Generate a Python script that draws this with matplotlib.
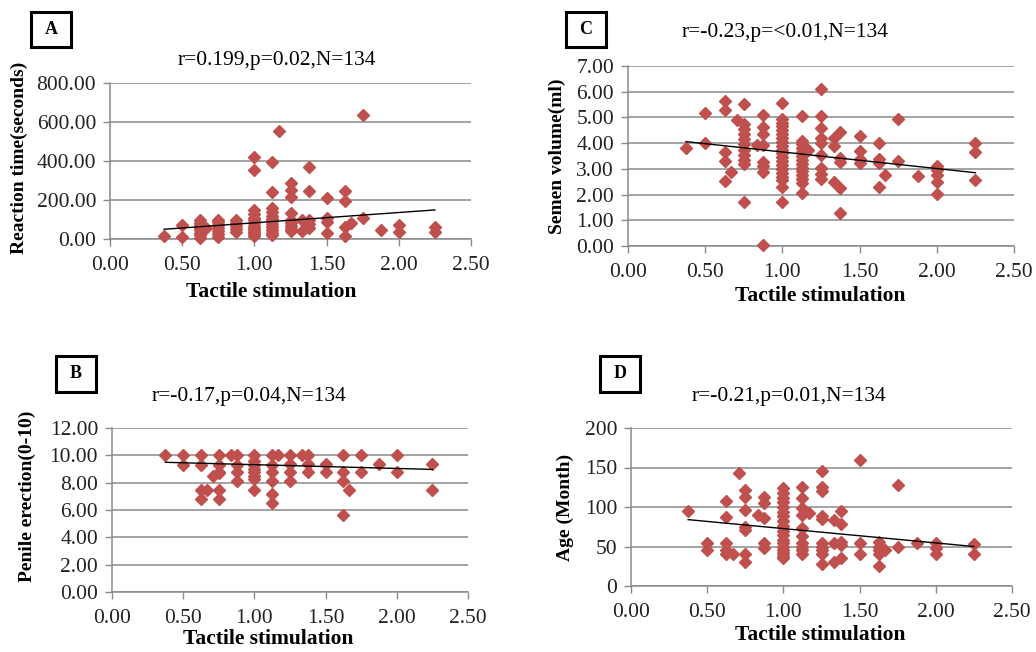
import numpy as np
import matplotlib.pyplot as plt
from matplotlib.patches import Rectangle
from matplotlib.ticker import FormatStrFormatter, MultipleLocator

plt.rcParams['font.family'] = ['Liberation Serif', 'DejaVu Serif']

W, H = 1036, 652

# tactile stimulation score (x) paired with each outcome
a_x = [0.375, 0.5, 0.5,
       0.625, 0.625, 0.625, 0.625, 0.625, 0.625, 0.625, 0.625, 0.667,
       0.75, 0.75, 0.75, 0.75, 0.75, 0.75, 0.75,
       0.875, 0.875, 0.875, 0.875, 0.875,
       1.0, 1.0, 1.0, 1.0, 1.0, 1.0, 1.0, 1.0, 1.0, 1.0, 1.0, 1.0, 1.0,
       1.125, 1.125, 1.125, 1.125, 1.125, 1.125, 1.125, 1.125, 1.125, 1.125, 1.125, 1.125,
       1.167,
       1.25, 1.25, 1.25, 1.25, 1.25, 1.25, 1.25, 1.25, 1.25,
       1.333, 1.333, 1.375, 1.375, 1.375, 1.375, 1.375,
       1.5, 1.5, 1.5, 1.5, 1.625, 1.625, 1.625, 1.625, 1.667,
       1.75, 1.75, 1.875, 2.0, 2.0, 2.25, 2.25]
a_y = [17, 72, 9,
       95, 80, 70, 55, 45, 30, 20, 5, 55,
       100, 85, 70, 55, 40, 25, 10,
       95, 80, 65, 50, 35,
       422, 354, 150, 130, 110, 95, 80, 65, 55, 45, 35, 25, 15,
       396, 243, 160, 140, 120, 105, 90, 75, 60, 45, 30, 18,
       554,
       289, 252, 217, 132, 95, 80, 65, 50, 40,
       95, 40, 368, 248, 97, 75, 55,
       209, 106, 89, 32, 248, 196, 63, 15, 84,
       636, 106, 46, 72, 38, 63, 38]

b_x = [0.375, 0.5, 0.5,
       0.625, 0.625, 0.625, 0.625, 0.667, 0.708,
       0.75, 0.75, 0.75, 0.75, 0.75, 0.75, 0.833,
       0.875, 0.875, 0.875, 0.875,
       1.0, 1.0, 1.0, 1.0, 1.0, 1.0, 1.0, 1.0,
       1.125, 1.125, 1.125, 1.125, 1.125, 1.125, 1.167,
       1.25, 1.25, 1.25, 1.25, 1.333, 1.375, 1.375, 1.375,
       1.5, 1.5, 1.625, 1.625, 1.625, 1.625, 1.667,
       1.75, 1.75, 1.875, 2.0, 2.0, 2.25, 2.25]
b_y = [10, 10, 9.3,
       10, 9.3, 7.5, 6.8, 7.5, 8.5,
       10, 9.3, 8.8, 8.7, 7.5, 6.8, 10,
       10, 9.3, 8.8, 8.1,
       10, 9.6, 9.3, 9.0, 8.8, 8.5, 8.3, 7.5,
       10, 9.3, 8.8, 8.1, 7.2, 6.5, 10,
       10, 9.4, 8.8, 8.1, 10, 10, 9.35, 8.8,
       9.35, 8.8, 10, 8.8, 8.1, 5.6, 7.5,
       10, 8.8, 9.35, 10, 8.8, 9.35, 7.5]

c_x = [0.375, 0.5, 0.5,
       0.625, 0.625, 0.625, 0.625, 0.625, 0.667, 0.708,
       0.75, 0.75, 0.75, 0.75, 0.75, 0.75, 0.75, 0.75, 0.75, 0.75, 0.75,
       0.833,
       0.875, 0.875, 0.875, 0.875, 0.875, 0.875, 0.875, 0.875,
       1.0, 1.0, 1.0, 1.0, 1.0, 1.0, 1.0, 1.0, 1.0, 1.0,
       1.0, 1.0, 1.0, 1.0, 1.0, 1.0, 1.0, 1.0, 1.0, 1.0,
       1.125, 1.125, 1.125, 1.125, 1.125, 1.125, 1.125,
       1.125, 1.125, 1.125, 1.125, 1.125, 1.125, 1.125,
       1.167,
       1.25, 1.25, 1.25, 1.25, 1.25, 1.25, 1.25, 1.25, 1.25,
       1.333, 1.333, 1.333, 1.375, 1.375, 1.375, 1.375, 1.375,
       1.5, 1.5, 1.5, 1.5, 1.625, 1.625, 1.625, 1.625, 1.667,
       1.75, 1.75, 1.875, 2.0, 2.0, 2.0, 2.0, 2.0, 2.25, 2.25, 2.25]
c_y = [3.80, 5.18, 4.0,
       5.65, 5.29, 3.67, 3.31, 2.52, 2.87, 4.9,
       5.52, 4.75, 4.55, 4.35, 4.15, 3.95, 3.75, 3.55, 3.35, 3.2, 1.72,
       3.93,
       5.09, 4.64, 4.34, 3.93, 3.28, 3.1, 2.89, 0.02,
       5.57, 4.95, 4.8, 4.65, 4.5, 4.35, 4.2, 4.05, 3.9, 3.75,
       3.6, 3.45, 3.3, 3.15, 3.0, 2.85, 2.7, 2.55, 2.3, 1.72,
       5.05, 4.1, 3.95, 3.8, 3.65, 3.5, 3.35,
       3.2, 3.05, 2.9, 2.75, 2.6, 2.45, 2.05,
       3.73,
       6.09, 5.06, 4.58, 4.2, 4.0, 3.54, 3.02, 2.8, 2.6,
       4.19, 3.89, 2.5, 4.45, 3.41, 3.28, 2.24, 1.27,
       4.28, 3.71, 3.37, 3.22, 4.02, 3.37, 3.22, 2.31, 2.76,
       4.93, 3.30, 2.72, 3.1, 2.95, 2.76, 2.5, 2.01, 4.0, 3.67, 2.57]

d_x = [0.375, 0.5, 0.5,
       0.625, 0.625, 0.625, 0.625, 0.625, 0.667, 0.708,
       0.75, 0.75, 0.75, 0.75, 0.75, 0.75, 0.75, 0.833,
       0.875, 0.875, 0.875, 0.875, 0.875,
       1.0, 1.0, 1.0, 1.0, 1.0, 1.0, 1.0, 1.0, 1.0,
       1.0, 1.0, 1.0, 1.0, 1.0, 1.0, 1.0, 1.0, 1.0,
       1.125, 1.125, 1.125, 1.125, 1.125, 1.125, 1.125, 1.125, 1.125, 1.125,
       1.167,
       1.25, 1.25, 1.25, 1.25, 1.25, 1.25, 1.25, 1.25, 1.25, 1.25,
       1.333, 1.333, 1.333, 1.375, 1.375, 1.375, 1.375, 1.375,
       1.5, 1.5, 1.5, 1.625, 1.625, 1.625, 1.625, 1.625, 1.667,
       1.75, 1.75, 1.875, 2.0, 2.0, 2.0, 2.25, 2.25]
d_y = [95, 54, 45,
       107, 87, 54, 46, 40, 40, 143,
       121, 113, 96, 75, 71, 41, 30, 90,
       113, 105, 86, 54, 48,
       124, 118, 112, 106, 100, 94, 88, 82, 76,
       70, 64, 58, 54, 50, 46, 42, 38, 35,
       125, 111, 99, 90, 73, 63, 55, 50, 45, 41,
       92,
       145, 125, 120, 89, 85, 55, 50, 45, 40, 28,
       83, 55, 30, 95, 79, 56, 52, 35,
       160, 55, 41, 56, 50, 45, 41, 25, 46,
       128, 49, 55, 54, 48, 41, 53, 41]

# linear trend end values at x = 0.375 and x = 2.25
trend_x = [0.375, 2.25]
a_trend = [50, 149]
b_trend = [9.49, 8.97]
c_trend = [4.06, 2.85]
d_trend = [84, 50]

titles = ['r=0.199,p=0.02,N=134', 'r=-0.17,p=0.04,N=134',
          'r=-0.23,p=<0.01,N=134', 'r=-0.21,p=0.01,N=134']
ylabels = ['Reaction time(seconds)', 'Penile erection(0-10)',
           'Semen volume(ml)', 'Age (Month)']

fig = plt.figure(figsize=(W / 100, H / 100), dpi=100, facecolor='white')


def fx(px):
    return px / W


def fy(py):
    return 1 - py / H


def panel(box, xs, ys, trend, ymax, ystep, yfmt, letter, letter_box,
          title, title_xy, ylabel, ylabel_xy, xlabel_xy):
    left, top, right, bottom = box
    ax = fig.add_axes([fx(left), fy(bottom), (right - left) / W, (bottom - top) / H])
    ax.set_xlim(0, 2.5)
    ax.set_ylim(0, ymax)
    ax.xaxis.set_major_locator(MultipleLocator(0.5))
    ax.yaxis.set_major_locator(MultipleLocator(ystep))
    ax.xaxis.set_major_formatter(FormatStrFormatter('%.2f'))
    ax.yaxis.set_major_formatter(FormatStrFormatter(yfmt))
    ax.yaxis.grid(True, color='#8a8a8a', lw=1.1)
    ax.set_axisbelow(True)
    for s in ['top', 'right']:
        ax.spines[s].set_visible(False)
    for s in ['left', 'bottom']:
        ax.spines[s].set_color('#8a8a8a')
        ax.spines[s].set_linewidth(1.1)
    ax.tick_params(length=5, width=1, color='#8a8a8a', labelsize=15.5,
                   labelcolor='#222222', pad=5)
    ax.tick_params(axis='x', pad=7)
    ax.plot(xs, ys, ls='none', marker='D', ms=6.3, color='#C0504D',
            mec='#C0504D', clip_on=False, zorder=3)
    ax.plot(trend_x, trend, color='black', lw=1, zorder=4)

    lx, ly, lw, lh = letter_box
    fig.patches.append(Rectangle((fx(lx), fy(ly + lh)), lw / W, lh / H,
                                 transform=fig.transFigure, fill=False,
                                 ec='black', lw=2.2))
    fig.text(fx(lx + lw / 2), fy(ly + lh / 2), letter, ha='center', va='center',
             fontsize=13, fontweight='bold')
    fig.text(fx(title_xy[0]), fy(title_xy[1]), title, ha='center', va='center',
             fontsize=15.5)
    fig.text(fx(ylabel_xy[0]), fy(ylabel_xy[1]), ylabel, ha='center', va='center',
             rotation=90, fontsize=14, fontweight='bold')
    fig.text(fx(xlabel_xy[0]), fy(xlabel_xy[1]), 'Tactile stimulation',
             ha='center', va='center', fontsize=15.5, fontweight='bold')
    return ax


panel((110, 83, 471, 239), a_x, a_y, a_trend, 800, 200, '%.2f', 'A',
      (31, 12, 40, 35), titles[0], (277, 61), ylabels[0], (19, 158), (271, 292))
panel((112, 428, 468, 592), b_x, b_y, b_trend, 12, 2, '%.2f', 'B',
      (56, 356, 40, 36), titles[1], (249, 397), ylabels[1], (27, 496), (268, 639))
panel((628, 66, 1014, 246), c_x, c_y, c_trend, 7, 1, '%.2f', 'C',
      (566, 12, 40, 35), titles[2], (785, 33), ylabels[2], (557, 156), (820, 296))
panel((631, 428, 1012, 586), d_x, d_y, d_trend, 200, 50, '%d', 'D',
      (600, 356, 40, 36), titles[3], (789, 397), ylabels[3], (565, 507), (820, 635))

fig.savefig('out.png', dpi=100, facecolor='white')
